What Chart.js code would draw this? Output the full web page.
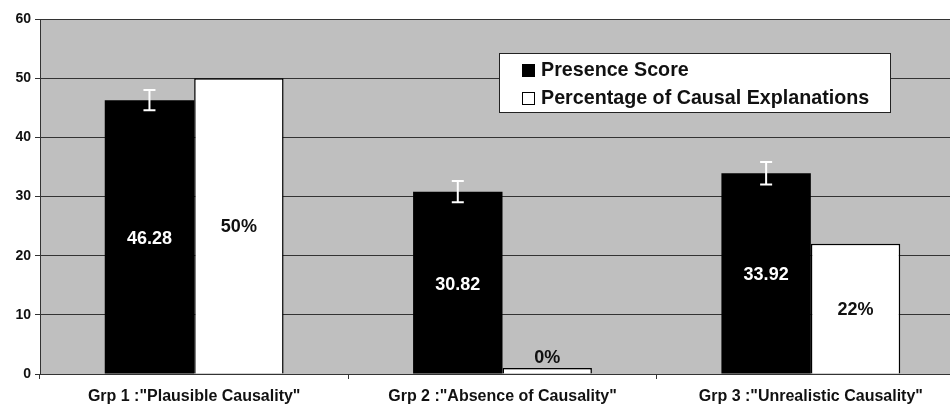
<!DOCTYPE html>
<html>
<head>
<meta charset="utf-8">
<script src="https://cdn.jsdelivr.net/npm/chart.js@4"></script>
<style>
  html, body { margin: 0; padding: 0; background: #fff; overflow: hidden; }
  #wrap { width: 966px; height: 410px; }
</style>
</head>
<body>
<div id="wrap"><canvas id="chart"></canvas></div>
<script>
// data
const groups = ['Grp 1 :"Plausible Causality"', 'Grp 2 :"Absence of Causality"', 'Grp 3 :"Unrealistic Causality"'];
const presenceScore = [46.28, 30.82, 33.92];
const presenceError = [1.7, 1.8, 1.9];
const causalPercent = [50, 0, 22];
const seriesNames = ['Presence Score', 'Percentage of Causal Explanations'];

const FONT = '"Liberation Sans", Arial, sans-serif';

// gray plot background
const plotBg = {
  id: 'plotBg',
  beforeDraw(chart) {
    const { ctx, chartArea: a } = chart;
    ctx.save();
    ctx.fillStyle = '#bfbfbf';
    ctx.fillRect(a.left, a.top, a.right - a.left, a.bottom - a.top);
    ctx.restore();
  }
};

// error bars + value labels + legend box
const extras = {
  id: 'extras',
  afterDatasetsDraw(chart) {
    const { ctx } = chart;
    const y = chart.scales.y;
    ctx.save();
    ctx.font = 'bold 18px ' + FONT;
    ctx.textAlign = 'center';
    ctx.textBaseline = 'middle';

    chart.getDatasetMeta(0).data.forEach((bar, i) => {
      const v = presenceScore[i], e = presenceError[i];
      const x = bar.x;
      const yTop = y.getPixelForValue(v + e), yBot = y.getPixelForValue(v - e);
      ctx.strokeStyle = '#fff';
      ctx.lineWidth = 2;
      ctx.beginPath();
      ctx.moveTo(x, yTop); ctx.lineTo(x, yBot);
      ctx.moveTo(x - 6, yTop); ctx.lineTo(x + 6, yTop);
      ctx.moveTo(x - 6, yBot); ctx.lineTo(x + 6, yBot);
      ctx.stroke();
      ctx.fillStyle = '#fff';
      ctx.fillText(v.toFixed(2), x, (bar.y + bar.base) / 2 + 2);
    });

    chart.getDatasetMeta(1).data.forEach((bar, i) => {
      const v = causalPercent[i];
      ctx.fillStyle = '#111';
      const ty = v > 5 ? (bar.y + bar.base) / 2 + 1 : bar.y - 10;
      ctx.fillText(v + '%', bar.x, ty);
    });

    // legend box
    const lx = 499, ly = 53, lw = 391, lh = 59;
    ctx.fillStyle = '#fff';
    ctx.fillRect(lx, ly, lw, lh);
    ctx.strokeStyle = '#222';
    ctx.lineWidth = 1;
    ctx.strokeRect(lx + 0.5, ly + 0.5, lw, lh);
    ctx.textAlign = 'left';
    ctx.font = 'bold 19.7px ' + FONT;
    const colors = ['#000', '#fff'];
    seriesNames.forEach((name, i) => {
      const cy = ly + 17 + i * 28;
      ctx.fillStyle = colors[i];
      ctx.fillRect(lx + 23, cy - 6, 13, 13);
      ctx.strokeStyle = '#000';
      ctx.strokeRect(lx + 23.5, cy - 5.5, 12, 12);
      ctx.fillStyle = '#111';
      ctx.fillText(name, lx + 42, cy + 1);
    });
    ctx.restore();
  }
};

new Chart(document.getElementById('chart'), {
  type: 'bar',
  data: {
    labels: groups,
    datasets: [
      {
        label: seriesNames[0],
        data: presenceScore,
        backgroundColor: '#000',
        borderColor: '#000',
        borderWidth: 0
      },
      {
        label: seriesNames[1],
        data: causalPercent,
        backgroundColor: '#fff',
        borderColor: '#000',
        borderWidth: 1.5,
        minBarLength: 6
      }
    ]
  },
  options: {
    responsive: true,
    maintainAspectRatio: false,
    animation: false,
    datasets: { bar: { barPercentage: 1, categoryPercentage: 0.58 } },
    layout: { padding: { top: 19, right: 1, left: 0, bottom: 0 } },
    plugins: {
      legend: { display: false },
      tooltip: { enabled: false }
    },
    scales: {
      x: {
        afterFit(s) { s.height = 36; },
        grid: { display: true, drawOnChartArea: false, tickLength: 5, color: '#333', offset: true },
        border: { display: true, color: '#333', width: 1 },
        ticks: { color: '#111', padding: 8, font: { family: FONT, size: 16, weight: 'bold' } }
      },
      y: {
        min: 0,
        max: 60,
        afterFit(s) { s.width = 40; },
        ticks: { stepSize: 10, color: '#111', padding: 4, font: { family: FONT, size: 14, weight: 'bold' } },
        grid: { color: '#333', lineWidth: 1, tickLength: 5 },
        border: { display: true, color: '#333', width: 1 }
      }
    }
  },
  plugins: [plotBg, extras]
});
</script>
</body>
</html>
